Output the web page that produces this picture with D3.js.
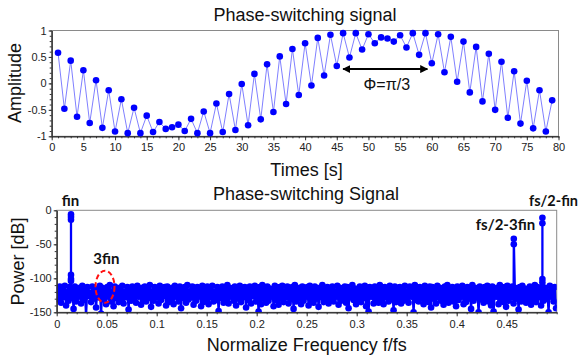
<!DOCTYPE html>
<html><head><meta charset="utf-8">
<script src="https://cdn.jsdelivr.net/npm/d3@7/dist/d3.min.js"></script>
<style>
body{margin:0;background:#fff}
svg{display:block}
text{font-family:"Liberation Sans",Arial,sans-serif}
</style>
</head><body>
<svg id="c" width="579" height="360"></svg>
<script>
// ---------- DATA ----------
const amplitude = [0.58,-0.48,0.43,-0.63,0.25,-0.75,0.06,-0.84,-0.13,-0.91,
 -0.30,-0.94,-0.46,-0.94,-0.61,-0.92,-0.73,-0.86,-0.83,-0.78,
 -0.90,-0.67,-0.94,-0.53,-0.94,-0.38,-0.92,-0.20,-0.88,-0.01,
 -0.79,0.18,-0.68,0.36,-0.54,0.51,-0.39,0.65,-0.22,0.76,
 -0.04,0.86,0.15,0.92,0.33,0.95,0.49,0.95,0.64,0.93,
 0.76,0.87,0.85,0.79,0.91,0.68,0.95,0.54,0.95,0.38,
 0.93,0.21,0.88,0.03,0.79,-0.17,0.69,-0.34,0.56,-0.50,
 0.41,-0.65,0.23,-0.76,0.05,-0.85,-0.13,-0.91,-0.32];
const timeTicks = [0,5,10,15,20,25,30,35,40,45,50,55,60,65,70,75,80];
const ampTicks = [-1,-0.5,0,0.5,1];
const ampTickLabels = ["-1","-0.5","0","0.5","1"];

const freqTicks = [0,0.05,0.1,0.15,0.2,0.25,0.3,0.35,0.4,0.45];
const freqTickLabels = ["0","0.05","0.1","0.15","0.2","0.25","0.3","0.35","0.4","0.45"];
const powerTicks = [0,-50,-100,-150];
const powerTickLabels = ["0","-50","-100","-150"];

// FFT noise floor, one value per bin (bin width 0.00125 f/fs)
const noiseBin = 0.00125;
const noiseDb = [
-118,-131,-112,-136,-115,-128,-111,-140,-120,-133,-113,-129,-117,-145,-112,-134,-119,-127,-114,-137,
-111,-132,-116,-155,-113,-126,-121,-135,-112,-130,-115,-143,-118,-128,-111,-152,-114,-131,-117,-138,
-113,-127,-110,-134,-119,-141,-112,-129,-116,-135,-114,-132,-111,-137,-120,-128,-113,-146,-115,-133,
-112,-130,-117,-136,-111,-127,-118,-139,-114,-131,-112,-134,-116,-129,-110,-142,-119,-133,-113,-128,
-115,-137,-111,-132,-117,-126,-113,-140,-112,-135,-118,-130,-114,-138,-111,-127,-116,-134,-112,-144,
-117,-129,-113,-136,-110,-131,-119,-128,-112,-139,-115,-133,-113,-127,-118,-141,-111,-135,-114,-130,
-112,-138,-116,-128,-111,-134,-120,-132,-113,-148,-115,-129,-112,-136,-117,-131,-110,-137,-114,-127,
-118,-133,-112,-140,-115,-130,-111,-135,-116,-128,-113,-143,-119,-132,-112,-137,-114,-126,-111,-134,
-116,-149,-113,-138,-110,-129,-117,-136,-112,-133,-115,-127,-118,-141,-111,-132,-114,-139,-113,-130,
-111,-135,-119,-128,-112,-137,-116,-131,-113,-145,-110,-134,-117,-129,-114,-138,-112,-133,-115,-127,
-113,-140,-111,-132,-118,-136,-112,-130,-115,-142,-114,-128,-110,-135,-117,-131,-113,-137,-116,-129,
-112,-134,-119,-127,-111,-139,-114,-133,-116,-130,-112,-136,-113,-144,-118,-128,-110,-132,-115,-138,
-117,-131,-112,-135,-114,-129,-111,-141,-116,-149,-113,-127,-119,-137,-112,-130,-115,-136,-110,-132,
-114,-138,-113,-128,-117,-134,-111,-131,-118,-147,-112,-135,-115,-129,-113,-137,-116,-133,-111,-130,
-119,-136,-112,-127,-114,-150,-110,-132,-117,-134,-113,-129,-115,-138,-111,-131,-118,-135,-112,-143,
-113,-130,-116,-137,-111,-128,-114,-133,-119,-139,-112,-131,-110,-136,-117,-129,-113,-134,-115,-141,
-112,-132,-118,-127,-111,-138,-115,-135,-113,-130,-116,-145,-110,-133,-114,-128,-119,-150,-112,-131,
-117,-136,-113,-129,-111,-134,-115,-140,-112,-149,-118,-127,-114,-138,-110,-131,-116,-135,-113,-142,
-111,-133,-119,-128,-112,-137,-114,-130,-117,-146,-113,-134,-111,-129,-115,-136,-118,-132,-112,-139,
-116,-131,-110,-135,-113,-128,-117,-140,-112,-133,-114,-130,-119,-150,-111,-127,-115,-134,-113,-144];

// spectral lines (fin, fs/2-3fin, fs/2-fin)
const peakFreq = [0.0143,0.0143,0.0143,0.0143,0.0143,0.0143, 0.4571,0.4571, 0.4857,0.4857,0.4857,0.4857];
const peakDb   = [-101,-95,-14,-10,-6,-104, -50,-42, -106,-19,-11,-101];

// ---------- DRAW ----------
const svg = d3.select('#c');
const FONT = '"Liberation Sans",Arial,sans-serif';
const BOLD = 'Lato,"Open Sans","DejaVu Sans",sans-serif';

function styleAxis(g){
  g.select('.domain').attr('stroke','#333').attr('stroke-width',1);
  g.selectAll('.tick line').attr('stroke','#333');
  g.selectAll('.tick text').attr('fill','#222').style('font-size','11px').style('font-family',FONT);
}

// ===== Top chart =====
const x1 = d3.scaleLinear().domain([0,80]).range([51.7,558.5]);
const y1 = d3.scaleLinear().domain([-1,1]).range([136.3,30.5]);

const topG = svg.append('g');
topG.append('rect').attr('x',x1(0)).attr('y',y1(1)).attr('width',x1(80)-x1(0)).attr('height',y1(-1)-y1(1))
  .attr('fill','none').attr('stroke','#8a8a8a').attr('stroke-width',1);

topG.append('g').attr('transform',`translate(0,${y1(-1)})`)
  .call(d3.axisBottom(x1).tickValues(d3.range(0,81,1)).tickFormat('').tickSize(2).tickSizeOuter(0))
  .call(styleAxis);
topG.append('g').attr('transform',`translate(${x1(0)},0)`)
  .call(d3.axisLeft(y1).tickValues(d3.range(-10,11).map(v=>v/10)).tickFormat('').tickSize(2).tickSizeOuter(0))
  .call(styleAxis);
topG.append('g').attr('transform',`translate(0,${y1(-1)})`)
  .call(d3.axisBottom(x1).tickValues(timeTicks).tickSize(4).tickSizeOuter(0).tickPadding(3))
  .call(styleAxis);
topG.append('g').attr('transform',`translate(${x1(0)},0)`)
  .call(d3.axisLeft(y1).tickValues(ampTicks).tickFormat((d,i)=>ampTickLabels[i]).tickSize(3).tickSizeOuter(0).tickPadding(2))
  .call(styleAxis);

const ampPts = amplitude.map((v,i)=>[i+1,v]);
topG.append('path').datum(ampPts)
  .attr('d',d3.line().x(d=>x1(d[0])).y(d=>y1(d[1])))
  .attr('fill','none').attr('stroke','#8080ff').attr('stroke-width',1);
topG.selectAll('circle.a').data(ampPts).enter().append('circle')
  .attr('cx',d=>x1(d[0])).attr('cy',d=>y1(d[1])).attr('r',3.3).attr('fill','#0000ff');

const defs = svg.append('defs');
defs.append('marker').attr('id','ah').attr('viewBox','0 0 10 10').attr('refX',9).attr('refY',5)
  .attr('markerWidth',4).attr('markerHeight',4).attr('orient','auto-start-reverse')
  .append('path').attr('d','M0,0 L10,5 L0,10 Z').attr('fill','#000');
topG.append('line').attr('x1',x1(46)).attr('x2',x1(59.3)).attr('y1',y1(0.27)).attr('y2',y1(0.27))
  .attr('stroke','#000').attr('stroke-width',2)
  .attr('marker-start','url(#ah)').attr('marker-end','url(#ah)');
topG.append('text').attr('x',x1(52.9)).attr('y',y1(-0.125)).attr('text-anchor','middle')
  .style('font-size','16px').attr('fill','#111').text('Φ=π/3');

svg.append('text').attr('x',305).attr('y',21).attr('text-anchor','middle').style('font-size','18px').attr('fill','#111').text('Phase-switching signal');
svg.append('text').attr('transform','translate(21,83) rotate(-90)').attr('text-anchor','middle').style('font-size','18px').attr('fill','#111').text('Amplitude');
svg.append('text').attr('x',306.5).attr('y',176).attr('text-anchor','middle').style('font-size','18px').attr('fill','#111').text('Times [s]');

// ===== Bottom chart =====
const x2 = d3.scaleLinear().domain([0,0.5]).range([56.7,556.7]);
const y2 = d3.scaleLinear().domain([-150,0]).range([312.3,210.3]);

const botG = svg.append('g');
botG.append('rect').attr('x',x2(0)).attr('y',y2(0)).attr('width',x2(0.5)-x2(0)).attr('height',y2(-150)-y2(0))
  .attr('fill','none').attr('stroke','#8a8a8a').attr('stroke-width',1);

defs.append('clipPath').attr('id','clip2').append('rect')
  .attr('x',x2(0)).attr('y',y2(0)-4).attr('width',x2(0.5)-x2(0)).attr('height',y2(-150)-y2(0)+4);

let specPts = noiseDb.map((v,i)=>[(i+0.5)*noiseBin, v]);
peakFreq.forEach((f,i)=>specPts.push([f, peakDb[i]]));
specPts = specPts.map((d,i)=>[d[0],d[1],i]).sort((a,b)=>a[0]-b[0] || a[2]-b[2]);

const plot2 = botG.append('g').attr('clip-path','url(#clip2)');
plot2.append('path').datum(specPts)
  .attr('d',d3.line().x(d=>x2(d[0])).y(d=>y2(d[1])))
  .attr('fill','none').attr('stroke','#0000ff').attr('stroke-width',2.3)
  .attr('stroke-linejoin','round');
plot2.selectAll('circle').data(specPts).enter().append('circle')
  .attr('cx',d=>x2(d[0])).attr('cy',d=>y2(d[1])).attr('r',3.3).attr('fill','#0000ff');

botG.append('g').attr('transform',`translate(0,${y2(-150)})`)
  .call(d3.axisBottom(x2).tickValues(d3.range(0,51).map(v=>v/100)).tickFormat('').tickSize(2).tickSizeOuter(0))
  .call(styleAxis);
botG.append('g').attr('transform',`translate(${x2(0)},0)`)
  .call(d3.axisLeft(y2).tickValues(d3.range(-150,1,10)).tickFormat('').tickSize(2).tickSizeOuter(0))
  .call(styleAxis);
botG.append('g').attr('transform',`translate(0,${y2(-150)})`)
  .call(d3.axisBottom(x2).tickValues(freqTicks).tickFormat((d,i)=>freqTickLabels[i]).tickSize(4).tickSizeOuter(0).tickPadding(4))
  .call(styleAxis);
botG.append('g').attr('transform',`translate(${x2(0)},0)`)
  .call(d3.axisLeft(y2).tickValues(powerTicks).tickFormat((d,i)=>powerTickLabels[i]).tickSize(3).tickSizeOuter(0).tickPadding(2))
  .call(styleAxis);

botG.append('ellipse').attr('cx',x2(0.0483)).attr('cy',y2(-112.4)).attr('rx',9.5).attr('ry',16)
  .attr('fill','none').attr('stroke','#ff1010').attr('stroke-width',2).attr('stroke-dasharray','5,3');
const ann = [["fin",61.7,206,15],["3fin",93.3,264,15],["fs/2-3fin",475.7,230,15],["fs/2-fin",529,206,14.5]];
ann.forEach(a=>{
  svg.append('text').attr('x',a[1]).attr('y',a[2]).style('font-family',BOLD).style('font-weight','bold')
    .style('font-size',a[3]+'px').attr('fill','#111').text(a[0]);
});

svg.append('text').attr('x',306).attr('y',200).attr('text-anchor','middle').style('font-size','18px').attr('fill','#111').text('Phase-switching Signal');
svg.append('text').attr('transform','translate(23.5,261.5) rotate(-90)').attr('text-anchor','middle').style('font-size','18px').attr('fill','#111').text('Power [dB]');
svg.append('text').attr('x',306.7).attr('y',351).attr('text-anchor','middle').style('font-size','18px').attr('fill','#111').text('Normalize Frequency f/fs');
</script>
</body></html>
